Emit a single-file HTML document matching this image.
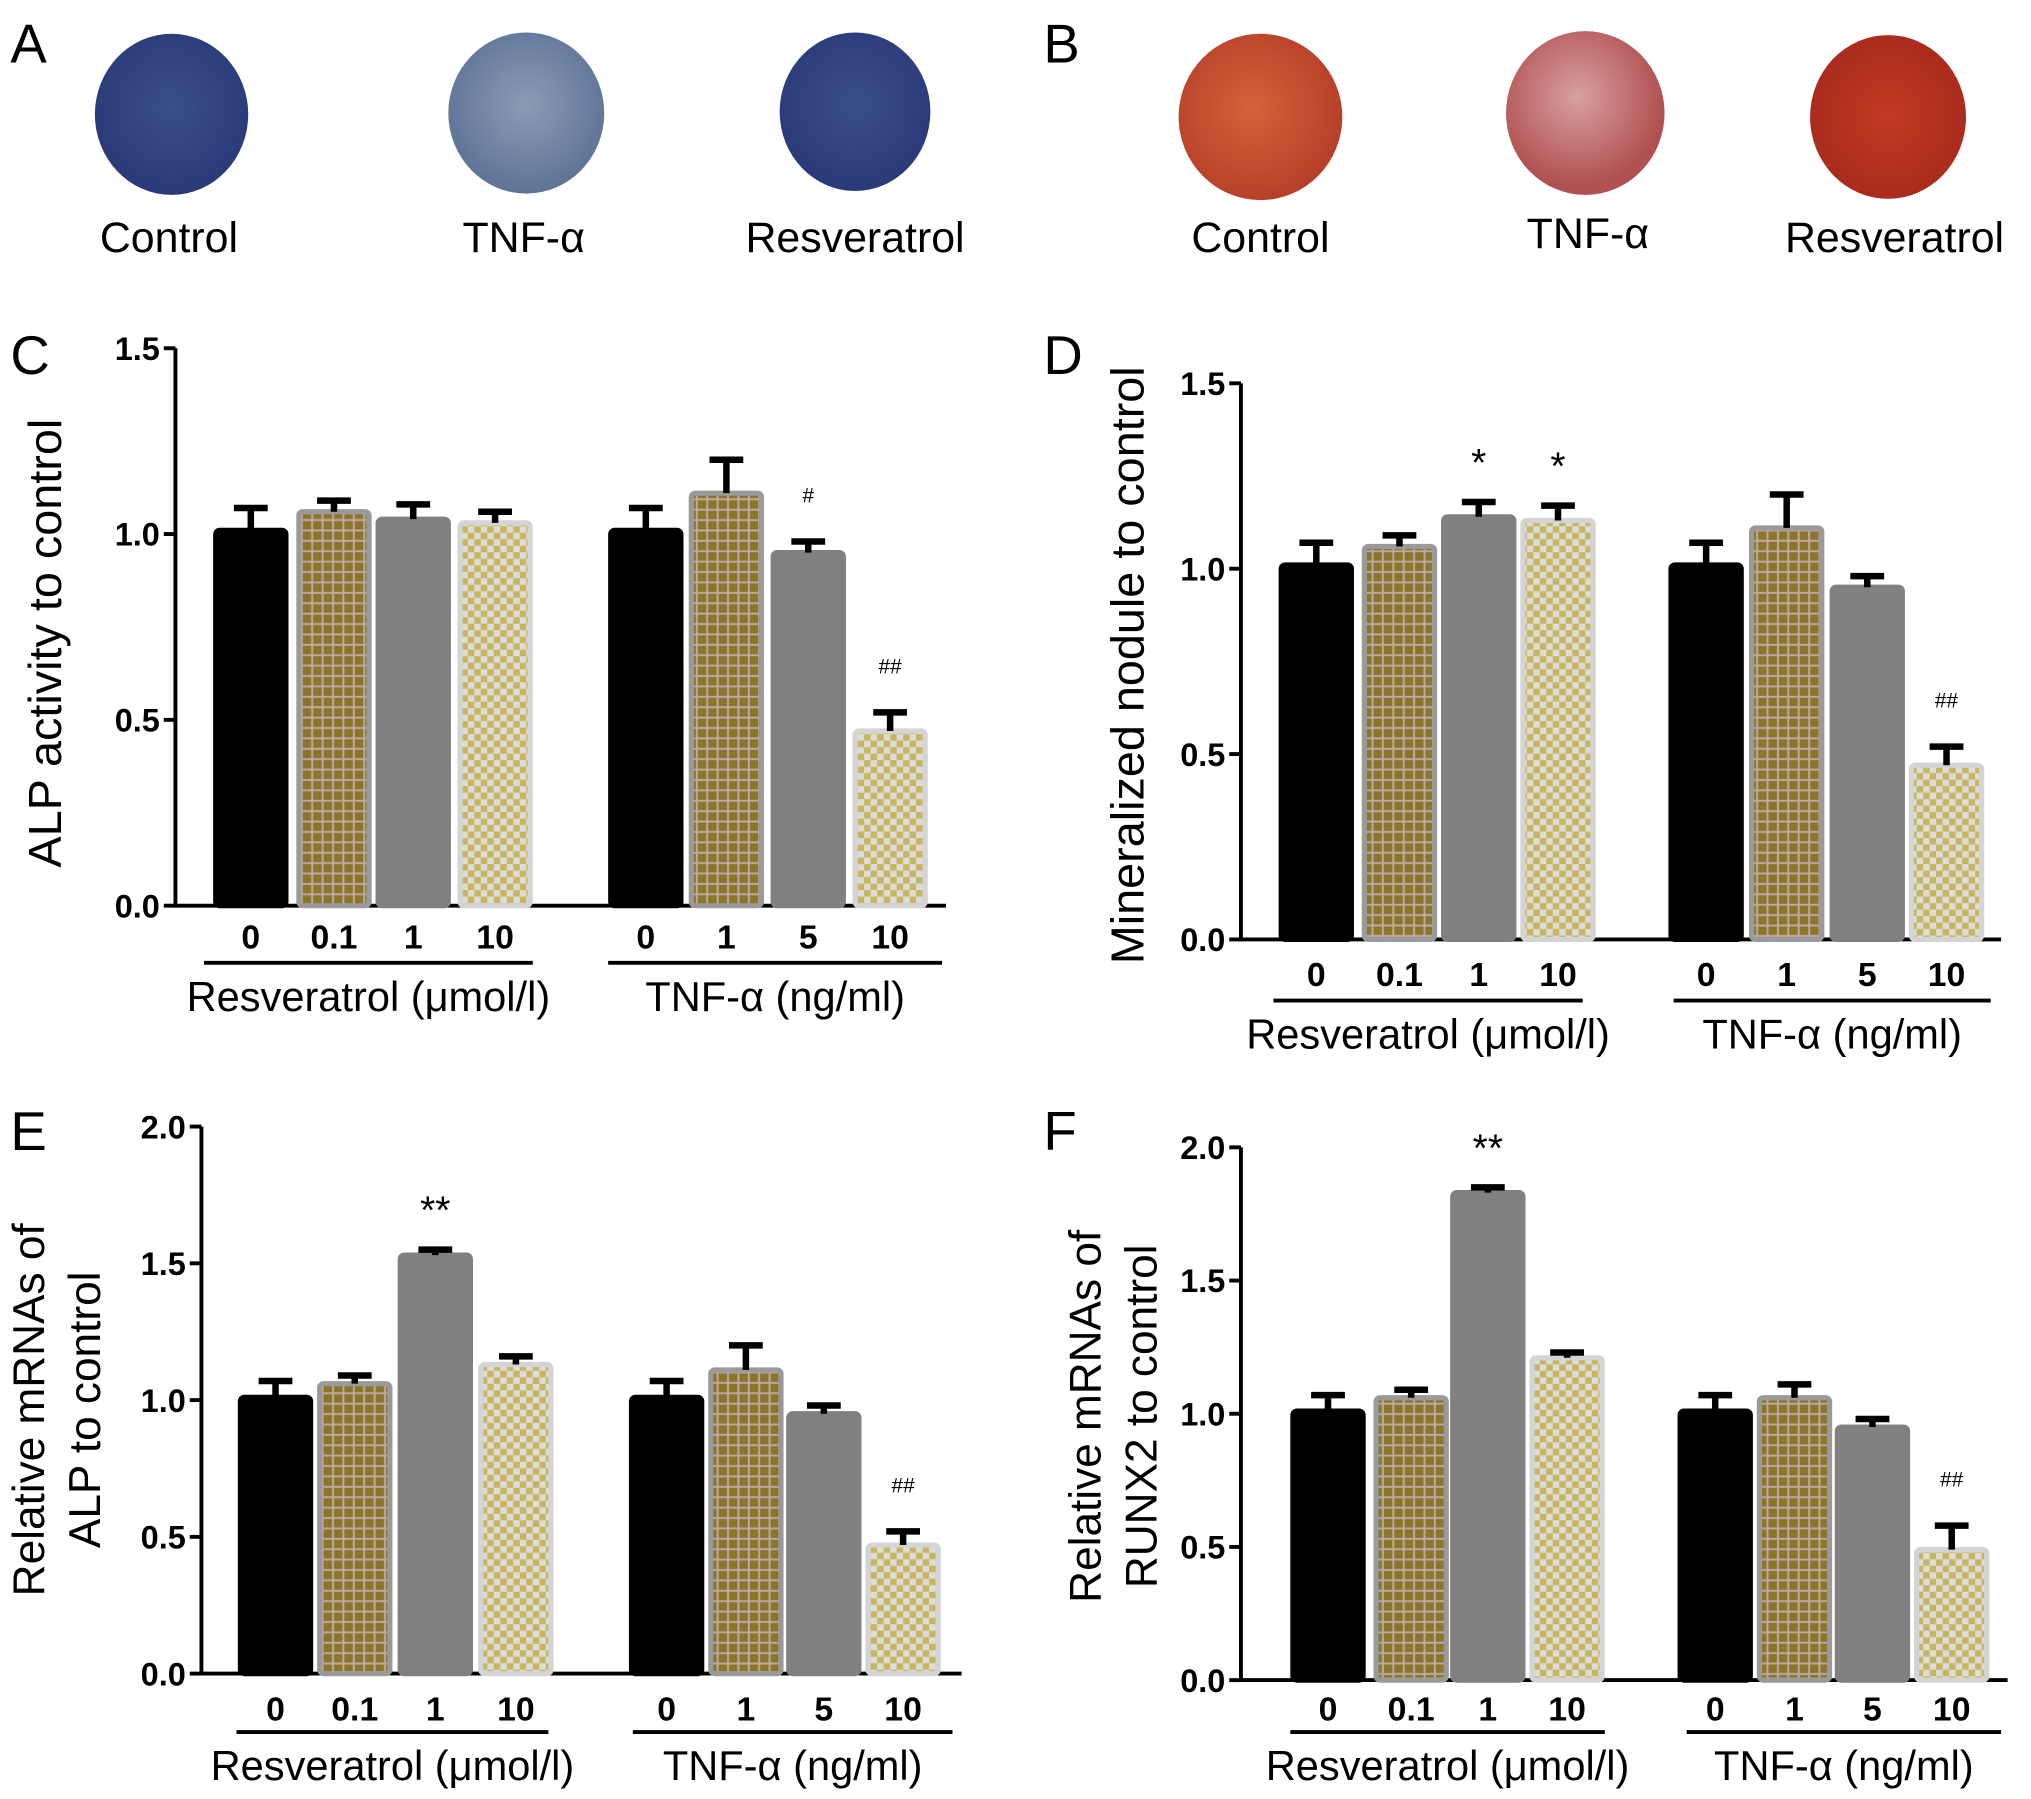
<!DOCTYPE html>
<html><head><meta charset="utf-8"><style>
html,body{margin:0;padding:0;background:#fff}
svg{display:block}
text{font-family:"Liberation Sans",Arial,sans-serif}
</style></head><body>
<svg id="fig" width="2031" height="1799" viewBox="0 0 1563 1384.5" xmlns="http://www.w3.org/2000/svg">
<defs>
 <radialGradient id="gBlue" cx="50%" cy="45%" r="55%"><stop offset="0" stop-color="#3a4f8a"/><stop offset="1" stop-color="#2a3a78"/></radialGradient>
 <radialGradient id="gBlueL" cx="50%" cy="45%" r="55%"><stop offset="0" stop-color="#8a9cb4"/><stop offset="1" stop-color="#5f7398"/></radialGradient>
 <radialGradient id="gRed" cx="45%" cy="45%" r="55%"><stop offset="0" stop-color="#d2623a"/><stop offset="1" stop-color="#b8402a"/></radialGradient>
 <radialGradient id="gRedL" cx="45%" cy="40%" r="55%"><stop offset="0" stop-color="#d9a0a0"/><stop offset="1" stop-color="#b05050"/></radialGradient>
 <radialGradient id="gRedD" cx="50%" cy="50%" r="55%"><stop offset="0" stop-color="#c23a22"/><stop offset="1" stop-color="#a82a1c"/></radialGradient>
 <pattern id="pGrid" width="8" height="8" patternUnits="userSpaceOnUse"><rect width="8" height="8" fill="#c0a8a8"/><rect x="1" y="1" width="6.5" height="6.5" fill="#8a7628"/></pattern>
 <pattern id="pCheck" width="10" height="10" patternUnits="userSpaceOnUse"><rect width="10" height="10" fill="#dcdcd8"/><rect width="5" height="5" fill="#c8b560"/><rect x="5" y="5" width="5" height="5" fill="#c8b560"/></pattern>
</defs>
<g>
 <text x="8" y="48" font-size="42">A</text>
 <ellipse cx="132" cy="88" rx="59" ry="62" fill="url(#gBlue)"/>
 <ellipse cx="405" cy="87" rx="60" ry="62" fill="url(#gBlueL)"/>
 <ellipse cx="658" cy="86" rx="58" ry="61" fill="url(#gBlue)"/>
 <text x="130" y="194" font-size="33" text-anchor="middle">Control</text>
 <text x="403" y="194" font-size="33" text-anchor="middle">TNF-α</text>
 <text x="658" y="194" font-size="33" text-anchor="middle">Resveratrol</text>
</g>
<g>
 <text x="803" y="48" font-size="42">B</text>
 <ellipse cx="970" cy="90" rx="63" ry="64" fill="url(#gRed)"/>
 <ellipse cx="1220" cy="87" rx="61" ry="63" fill="url(#gRedL)"/>
 <ellipse cx="1453" cy="90" rx="60" ry="63" fill="url(#gRedD)"/>
 <text x="970" y="194" font-size="33" text-anchor="middle">Control</text>
 <text x="1222" y="191" font-size="33" text-anchor="middle">TNF-α</text>
 <text x="1458" y="194" font-size="33" text-anchor="middle">Resveratrol</text>
</g>
<g id="charts"></g>
</svg>
<script>
// ---- data ----
const categoriesResv = ["0","0.1","1","10"];
const categoriesTnf = ["0","1","5","10"];
const groupLabels = ["Resveratrol (μmol/l)","TNF-α (ng/ml)"];
const ticksC = [0,0.5,1.0,1.5];
const ticksE = [0,0.5,1.0,1.5,2.0];
const valuesC = [1.01,1.06,1.04,1.03, 1.01,1.11,0.95,0.47];
const errorsC = [0.06,0.03,0.04,0.03, 0.06,0.09,0.03,0.05];
const marksC = ["","","","", "","","#","##"];
const valuesD = [1.01,1.06,1.14,1.13, 1.01,1.11,0.95,0.47];
const errorsD = [0.06,0.03,0.04,0.04, 0.06,0.09,0.03,0.05];
const marksD = ["","","*","*", "","","","##"];
const valuesE = [1.01,1.06,1.53,1.13, 1.01,1.11,0.95,0.47];
const errorsE = [0.06,0.03,0.02,0.03, 0.06,0.09,0.03,0.05];
const marksE = ["","","**","", "","","","##"];
const valuesF = [1.01,1.06,1.83,1.21, 1.01,1.06,0.95,0.49];
const errorsF = [0.06,0.03,0.02,0.02, 0.06,0.05,0.03,0.09];
const marksF = ["","","**","", "","","","##"];

const NS="http://www.w3.org/2000/svg";
function mk(parent,tag,attrs,txt){const e=document.createElementNS(NS,tag);for(const k in attrs)e.setAttribute(k,attrs[k]);if(txt!==undefined)e.textContent=txt;parent.appendChild(e);return e;}
const fills=["#000","url(#pGrid)","#808080","url(#pCheck)"];
const strokes=["#000","#9a9a9a","#808080","#d4d4d4"];

function chart(cfg){
 const root=document.getElementById('charts');
 const g=mk(root,'g',{});
 
 
 const y=v=>cfg.y0-(v/cfg.ymax)*(cfg.y0-cfg.ytop);
 const lab=mk(g,'text',{x:cfg.px,y:cfg.py,'font-size':42},cfg.id.toUpperCase());
 
 
 const ya=mk(g,'line',{x1:cfg.ax,x2:cfg.ax,y1:cfg.ytop,y2:cfg.y0+1.5,stroke:'#000','stroke-width':3});
 
 
 const xa=mk(g,'line',{x1:cfg.ax,x2:cfg.axEnd,y1:cfg.y0,y2:cfg.y0,stroke:'#000','stroke-width':3});
 
 
 cfg.ticks.forEach(t=>{
  mk(g,'line',{x1:cfg.ax-9,x2:cfg.ax,y1:y(t),y2:y(t),stroke:'#000','stroke-width':3});
  const tl=mk(g,'text',{x:cfg.ax-12,y:y(t)+9,'font-size':25,'font-weight':'bold','text-anchor':'end'},t.toFixed(1));
  
  
 });
 const vals=cfg.values;
 vals.forEach((v,i)=>{
  const cx=cfg.centers[i],w=cfg.bw,k=i%4;
  const top=y(v);
  const b=mk(g,'rect',{x:cx-w/2+2,y:top,width:w-4,height:cfg.y0-top,fill:fills[k],stroke:strokes[k],'stroke-width':4,rx:3});
  
  
  const et=y(v+cfg.errors[i]);
  const eb=mk(g,'path',{d:`M${cx},${top} V${et} M${cx-13},${et} H${cx+13}`,stroke:'#000','stroke-width':5,fill:'none'});
  
  
  const m=cfg.marks[i];
  if(m){
   const isStar=m[0]==='*';
   const mt=mk(g,'text',{x:cx,y:et-(isStar?20:30),'font-size':isStar?30:16,'text-anchor':'middle'},m);
   
   
  }
  const cl=mk(g,'text',{x:cx,y:cfg.labY,'font-size':26,'font-weight':'bold','text-anchor':'middle'},i<4?categoriesResv[i]:categoriesTnf[i-4]);
  
  
 });
 cfg.under.forEach((u,j)=>{
  const ul=mk(g,'line',{x1:u[0],x2:u[1],y1:cfg.underY,y2:cfg.underY,stroke:'#000','stroke-width':3});
  
  
  const gl=mk(g,'text',{x:(u[0]+u[1])/2,y:cfg.underY+37,'font-size':32,'text-anchor':'middle'},groupLabels[j]);
  
  
 });
 cfg.title.forEach((t,j)=>{
  const tx=cfg.tx[j];
  const yt=mk(g,'text',{x:0,y:0,'font-size':cfg.tfs,'text-anchor':'middle',transform:`translate(${tx},${cfg.ty}) rotate(-90)`},t);
  
  
 });
}
chart({id:'c',px:8,py:288,ax:135,axEnd:728,ytop:268,y0:697,ymax:1.5,ticks:ticksC,values:valuesC,errors:errorsC,marks:marksC,
 centers:[193,257,318,381,497,559,622,685],bw:58,labY:730,underY:741,under:[[157,410],[468,725]],
 title:["ALP activity to control"],tx:[47],ty:495,tfs:36});
chart({id:'d',px:803,py:288,ax:955,axEnd:1540,ytop:295,y0:723,ymax:1.5,ticks:ticksC,values:valuesD,errors:errorsD,marks:marksD,
 centers:[1013,1077,1138,1199,1313,1375,1437,1498],bw:58,labY:759,underY:770,under:[[980,1218],[1288,1532]],
 title:["Mineralized nodule to control"],tx:[880],ty:512,tfs:36});
chart({id:'e',px:8,py:885,ax:155,axEnd:740,ytop:867,y0:1288,ymax:2.0,ticks:ticksE,values:valuesE,errors:errorsE,marks:marksE,
 centers:[212,273,335,397,513,574,634,695],bw:58,labY:1324,underY:1333,under:[[182,422],[487,733]],
 title:["Relative mRNAs of","ALP to control"],tx:[34,77],ty:1085,tfs:34});
chart({id:'f',px:803,py:885,ax:955,axEnd:1545,ytop:883,y0:1293,ymax:2.0,ticks:ticksE,values:valuesF,errors:errorsF,marks:marksF,
 centers:[1022,1086,1145,1206,1320,1381,1441,1502],bw:58,labY:1324,underY:1333,under:[[993,1235],[1298,1540]],
 title:["Relative mRNAs of","RUNX2 to control"],tx:[847,890],ty:1090,tfs:34});
</script>
</body></html>
